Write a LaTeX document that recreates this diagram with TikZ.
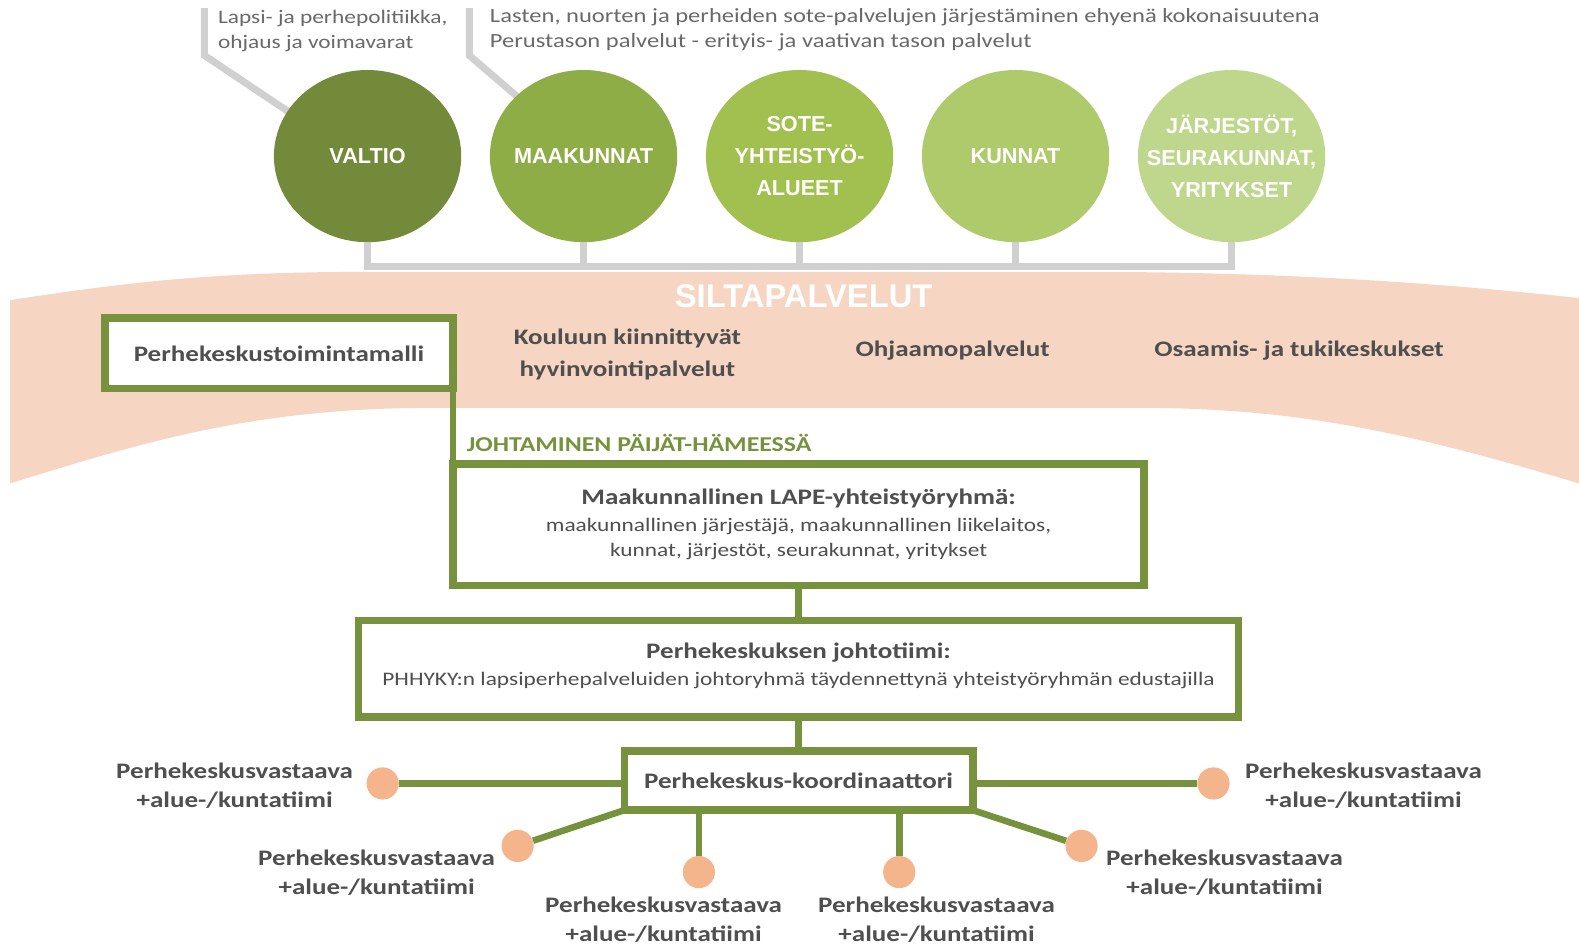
\documentclass[tikz,border=0pt]{standalone}
\usepackage{fontspec}
\setmainfont{Carlito}[FakeStretch=1.22]
\newfontfamily\orgfont{Liberation Sans}
\usepackage{tikz}
\usetikzlibrary{shapes.geometric}

\definecolor{lapegreen}{HTML}{76923C}
\definecolor{textgray}{HTML}{4F4F4F}
\definecolor{bandpeach}{HTML}{F6D5C3}
\definecolor{dotpeach}{HTML}{F4B48C}
\definecolor{linegray}{HTML}{CFD0CF}
\definecolor{orgA}{HTML}{738A3A}
\definecolor{orgB}{HTML}{8FAD47}
\definecolor{orgC}{HTML}{A2C04F}
\definecolor{orgD}{HTML}{AECA6B}
\definecolor{orgE}{HTML}{BFD68D}

\begin{document}
\begin{tikzpicture}[x=1pt,y=-1pt,node distance=214.5pt,
        org/.style={ellipse,minimum width=186pt,minimum height=171pt,inner xsep=-30pt,inner ysep=0pt,
          text=white,align=center,font=\orgfont\bfseries\fontsize{21.5}{32}\selectfont},
        greenbox/.style={draw=lapegreen,line width=7.5pt,fill=white,inner sep=0pt,outer sep=0pt,
          align=center,text=textgray},
        service/.style={text=textgray,align=center,font=\bfseries\fontsize{22}{31}\selectfont},
        note/.style={text=textgray!85,align=left,anchor=west,font=\fontsize{19}{25}\selectfont},
        vastaava/.style={text=textgray,align=center,font=\bfseries\fontsize{22}{29}\selectfont},
        dot/.style={circle,fill=dotpeach,minimum size=32pt,inner sep=0pt},
        grayline/.style={draw=linegray,line width=7pt},
        greenline/.style={draw=lapegreen,line width=6.5pt}]

  \useasboundingbox (0,0) rectangle (1568,940);

  \fill[bandpeach] (10,298) .. controls (110,283) and (200,270) .. (360,270)
        -- (1080,270) .. controls (1280,270) and (1440,282) .. (1568,296)
        -- (1568,480) .. controls (1400,430) and (1290,405) .. (1130,405)
        -- (430,405) .. controls (250,405) and (140,440) .. (10,480) -- cycle;

  \node[note] (politiikka) at (213,30.5) {Lapsi- ja perhepolitiikka,\\ohjaus ja voimavarat};
  \node[note,font=\fontsize{20}{25}\selectfont] (sote) at (483,29.5) {Lasten, nuorten ja perheiden sote-palvelujen järjestäminen ehyenä kokonaisuutena\\Perustason palvelut - erityis- ja vaativan tason palvelut};

  \coordinate (b1) at (203,8);
  \coordinate (b2) at (466,8);
  \draw[grayline] (b1) -- ++(0,47) -- (300,120);
  \draw[grayline] (b2) -- ++(0,47) -- (530,110);

  \node[org,fill=orgA] (valtio) at (365,155) {VALTIO};
  \node[org,fill=orgB] (maakunnat) [right of=valtio] {MAAKUNNAT};
  \node[org,fill=orgC] (sotealueet) [right of=maakunnat] {SOTE-\\YHTEISTYÖ-\\ALUEET};
  \node[org,fill=orgD] (kunnat) [right of=sotealueet] {KUNNAT};
  \node[org,fill=orgE] (jarjestot) [right of=kunnat] {JÄRJESTÖT,\\SEURAKUNNAT,\\YRITYKSET};

  \coordinate (bus) at (0,265);
  \draw[grayline] (valtio.south) |- (jarjestot.south |- bus) -- (jarjestot.south);
  \foreach \n in {maakunnat,sotealueet,kunnat}
    \draw[grayline] (\n.south) -- (\n.south |- bus);

  \node[text=white,font=\orgfont\bfseries\fontsize{32.5}{32}\selectfont] (silta) at (798,294) {SILTAPALVELUT};

  \node[greenbox,minimum width=346pt,minimum height=70pt,font=\bfseries\fontsize{22}{28}\selectfont]
        (malli) at (277,351) {Perhekeskustoimintamalli};
  \node[service] (koulu) at (623,352) {Kouluun kiinnittyvät\\hyvinvointipalvelut};
  \node[service] (ohjaamo) at (946,348) {Ohjaamopalvelut};
  \node[service] (osaamis) at (1290,348) {Osaamis- ja tukikeskukset};

  \node[text=lapegreen,anchor=west,font=\bfseries\fontsize{21}{21}\selectfont] (johtaminen) at (460,440) {JOHTAMINEN PÄIJÄT-HÄMEESSÄ};

  \node[greenbox,minimum width=686pt,minimum height=121pt,font=\fontsize{19}{25}\selectfont] (lape) at (793,521) {%
        {\bfseries\fontsize{22}{26}\selectfont Maakunnallinen LAPE-yhteistyöryhmä:}\\[2pt]
        maakunnallinen järjestäjä, maakunnallinen liikelaitos,\\
        kunnat, järjestöt, seurakunnat, yritykset};
  \node[greenbox,minimum width=874pt,minimum height=96pt,font=\fontsize{19}{25}\selectfont] (johtotiimi) at (793,664) {%
        {\bfseries\fontsize{22}{27}\selectfont Perhekeskuksen johtotiimi:}\\[2pt]
        PHHYKY:n lapsiperhepalveluiden johtoryhmä täydennettynä yhteistyöryhmän edustajilla\\[-16pt]};
  \node[greenbox,minimum width=346pt,minimum height=59pt,font=\bfseries\fontsize{22}{28}\selectfont]
        (koordinaattori) at (793,775) {Perhekeskus-koordinaattori};

  \draw[greenline] (malli.south east) -- (lape.north west);
  \draw[greenline] (lape.south) -- (johtotiimi.north);
  \draw[greenline] (johtotiimi.south) -- (koordinaattori.north);

  \node[dot] (d1) at (380,778) {};
  \node[dot] (d2) at (514,840) {};
  \node[dot] (d3) at (694,866) {};
  \node[dot] (d4) at (893,866) {};
  \node[dot] (d5) at (1074,840) {};
  \node[dot] (d6) at (1205,778) {};

  \draw[greenline] (koordinaattori.west |- d1) -- (d1);
  \draw[greenline] (koordinaattori.south west) -- (d2);
  \draw[greenline] (koordinaattori.south -| d3) -- (d3);
  \draw[greenline] (koordinaattori.south -| d4) -- (d4);
  \draw[greenline] (koordinaattori.south east) -- (d5);
  \draw[greenline] (koordinaattori.east |- d6) -- (d6);

  \node[vastaava] (v1) at (233,780) {Perhekeskusvastaava\\+alue-/kuntatiimi};
  \node[vastaava] (v2) at (374,867) {Perhekeskusvastaava\\+alue-/kuntatiimi};
  \node[vastaava] (v3) at (659,913) {Perhekeskusvastaava\\+alue-/kuntatiimi};
  \node[vastaava] (v4) at (930,913) {Perhekeskusvastaava\\+alue-/kuntatiimi};
  \node[vastaava] (v5) at (1216,867) {Perhekeskusvastaava\\+alue-/kuntatiimi};
  \node[vastaava] (v6) at (1354,780) {Perhekeskusvastaava\\+alue-/kuntatiimi};

\end{tikzpicture}
\end{document}
